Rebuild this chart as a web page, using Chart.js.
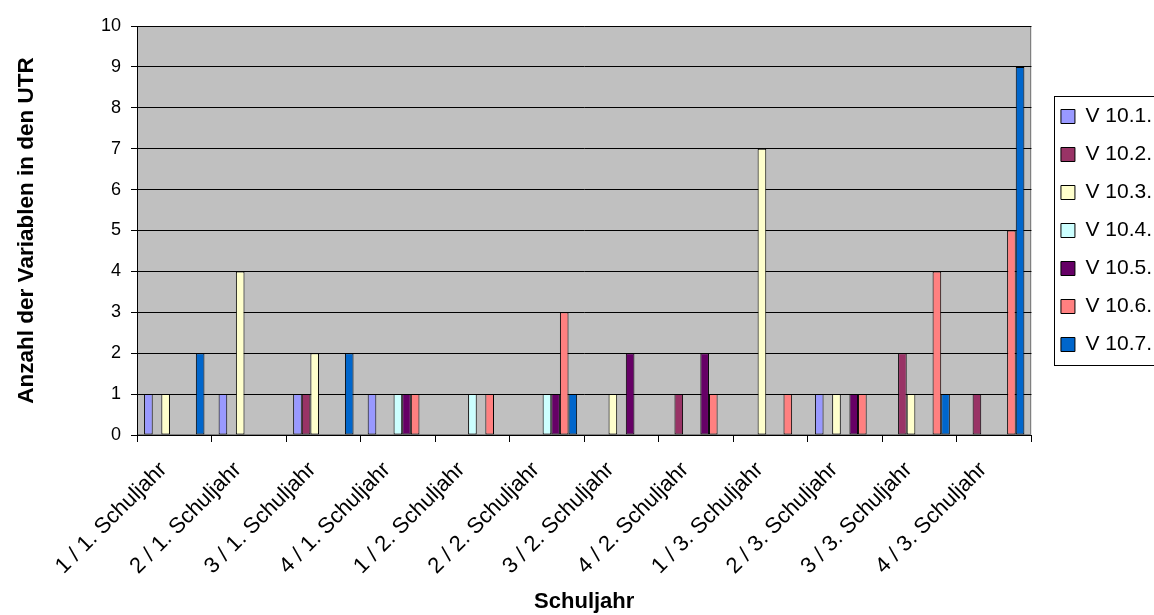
<!DOCTYPE html>
<html>
<head>
<meta charset="utf-8">
<script src="https://cdn.jsdelivr.net/npm/chart.js@4.4.1/dist/chart.umd.min.js"></script>
<style>
html,body{margin:0;padding:0;background:#fff;overflow:hidden;}
#wrap{width:1154px;height:615px;position:relative;}
</style>
</head>
<body>
<div id="wrap"><canvas id="c" width="1154" height="615"></canvas></div>
<script>
// ---- data ----
const categories = [
  "1 / 1. Schuljahr", "2 / 1. Schuljahr", "3 / 1. Schuljahr", "4 / 1. Schuljahr",
  "1 / 2. Schuljahr", "2 / 2. Schuljahr", "3 / 2. Schuljahr", "4 / 2. Schuljahr",
  "1 / 3. Schuljahr", "2 / 3. Schuljahr", "3 / 3. Schuljahr", "4 / 3. Schuljahr"
];
const seriesNames = ["V 10.1.", "V 10.2.", "V 10.3.", "V 10.4.", "V 10.5.", "V 10.6.", "V 10.7."];
const v10_1 = [1, 1, 1, 1, 0, 0, 0, 0, 0, 1, 0, 0];
const v10_2 = [0, 0, 1, 0, 0, 0, 0, 1, 0, 0, 2, 1];
const v10_3 = [1, 4, 2, 0, 0, 0, 1, 0, 7, 1, 1, 0];
const v10_4 = [0, 0, 0, 1, 1, 1, 0, 0, 0, 0, 0, 0];
const v10_5 = [0, 0, 0, 1, 0, 1, 2, 2, 0, 1, 0, 0];
const v10_6 = [0, 0, 0, 1, 1, 3, 0, 1, 1, 1, 4, 5];
const v10_7 = [2, 0, 2, 0, 0, 1, 0, 0, 0, 0, 1, 9];
const yTicks = [0, 1, 2, 3, 4, 5, 6, 7, 8, 9, 10];
const xTitle = "Schuljahr";
const yTitle = "Anzahl der Variablen in den UTR";

// ---- styles ----
const colors = ["#9999FF", "#993366", "#FFFFCC", "#CCFFFF", "#660066", "#FF8080", "#0066CC"];
const seriesValues = [v10_1, v10_2, v10_3, v10_4, v10_5, v10_6, v10_7];

Chart.defaults.font.family = "'Liberation Sans', Arial, Helvetica, sans-serif";
Chart.defaults.color = "#000";

const frame = {
  id: 'frame',
  beforeDraw(chart) {
    const {ctx, chartArea: a} = chart;
    ctx.save();
    ctx.fillStyle = '#C0C0C0';
    ctx.fillRect(a.left, a.top, a.right - a.left, a.bottom - a.top);
    ctx.strokeStyle = '#808080';
    ctx.lineWidth = 1;
    ctx.strokeRect(Math.round(a.left) + 0.5, Math.round(a.top) + 0.5,
                   Math.round(a.right - a.left) - 1, Math.round(a.bottom - a.top) - 1);
    ctx.restore();
  },
  afterDraw(chart) {
    const lg = chart.legend;
    if (!lg || !lg.legendHitBoxes || !lg.legendHitBoxes.length) return;
    const hb = lg.legendHitBoxes;
    const first = hb[0], last = hb[hb.length - 1];
    const ctx = chart.ctx;
    ctx.save();
    ctx.strokeStyle = '#000';
    ctx.lineWidth = 1;
    const x = Math.round(first.left - 7) + 0.5;
    const y = Math.round(first.top - 10) + 0.5;
    const h = Math.round(last.top + last.height + 10 - (first.top - 10));
    ctx.strokeRect(x, y, chart.width, h);
    ctx.restore();
  }
};

new Chart(document.getElementById('c'), {
  type: 'bar',
  data: {
    labels: categories,
    datasets: seriesNames.map((name, i) => ({
      label: name,
      data: seriesValues[i],
      backgroundColor: colors[i],
      borderColor: '#000',
      borderWidth: 1,
      borderSkipped: false,
      categoryPercentage: 0.81,
      barPercentage: 1.0
    }))
  },
  options: {
    responsive: false,
    animation: false,
    devicePixelRatio: 1,
    events: [],
    layout: { padding: { left: 0, top: 26, right: -8, bottom: 0 } },
    plugins: {
      tooltip: { enabled: false },
      legend: {
        position: 'right',
        align: 'center',
        fullSize: false,
        labels: {
          boxWidth: 14,
          boxHeight: 14,
          padding: 17,
          font: { size: 21 },
          color: '#000'
        }
      }
    },
    scales: {
      x: {
        grid: { drawOnChartArea: false, drawTicks: true, tickLength: 7, color: '#000' },
        border: { display: true, color: '#000', width: 1 },
        ticks: { font: { size: 22 }, color: '#000', maxRotation: 45, minRotation: 45, autoSkip: false, padding: 15, labelOffset: -11 },
        title: { display: true, text: xTitle, font: { size: 22, weight: 'bold' }, color: '#000', padding: { top: 0, bottom: 0 } },
        afterFit(s) { s.height = 180; }
      },
      y: {
        min: yTicks[0],
        max: yTicks[yTicks.length - 1],
        afterBuildTicks(s) { s.ticks = yTicks.map(v => ({ value: v })); },
        grid: { color: '#000', lineWidth: 1, drawTicks: true, tickLength: 6 },
        border: { display: true, color: '#000', width: 1 },
        ticks: { font: { size: 18 }, color: '#000', padding: 10 },
        title: { display: true, text: yTitle, font: { size: 22.5, weight: 'bold' }, color: '#000', padding: { top: 13, bottom: 0 } },
        afterFit(s) { s.width = 137; }
      },
      gap: {
        type: 'linear',
        position: 'right',
        display: true,
        grid: { display: false, drawTicks: false },
        ticks: { display: false },
        border: { display: false },
        afterFit(s) { s.width = 12.5; }
      }
    }
  },
  plugins: [frame]
});
</script>
</body>
</html>
